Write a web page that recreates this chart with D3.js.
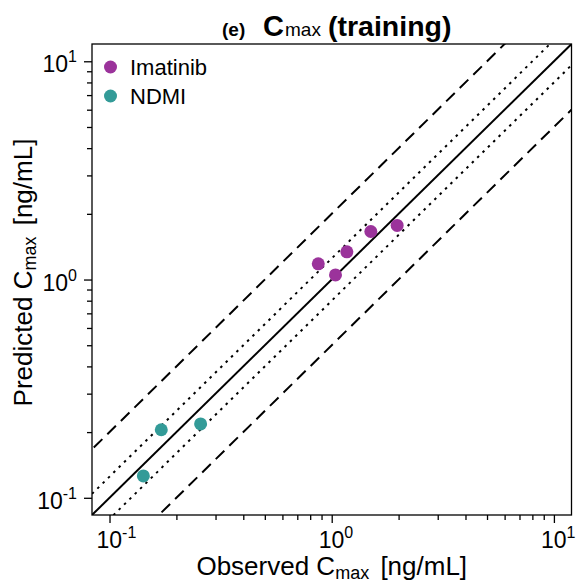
<!DOCTYPE html>
<html lang="en">
<head>
<meta charset="UTF-8">
<title>Cmax training</title>
<script src="https://d3js.org/d3.v7.min.js"></script>
<style>
    body { margin: 0; background: #fff; }
    svg text { font-family: "Liberation Sans", Arial, sans-serif; fill: #000; }
</style>
</head>
<body>
<svg id="chart"></svg>
<script>
    // observed vs predicted Cmax [ng/mL]
    const groups = ["Imatinib", "NDMI"];
    const groupColors = ["#9b339b", "#339b98"];
    const imatinibObs = [0.87, 1.04, 1.17, 1.50, 1.97];
    const imatinibPred = [1.18, 1.05, 1.34, 1.66, 1.77];
    const ndmiObs = [0.142, 0.171, 0.257];
    const ndmiPred = [0.126, 0.205, 0.218];
    const majorTicks = [0.1, 1, 10];
    const majorExp = ["-1", "0", "1"];
    const minorTicks = [0.2, 0.3, 0.4, 0.5, 0.6, 0.7, 0.8, 0.9, 2, 3, 4, 5, 6, 7, 8, 9];
    // fold lines: solid 1:1, dotted 0.8-1.25, dashed 0.5-2
    const foldLines = [
        { k: 1, dash: null },
        { k: 1.25, dash: "2.5,5" },
        { k: 0.8, dash: "2.5,5" },
        { k: 2, dash: "12,7" },
        { k: 0.5, dash: "12,7" }
    ];

    const W = 577, H = 584;
    const pLeft = 92, pRight = 571.5, pTop = 44, pBottom = 515;
    const domain = [0.0834, 12.0];

    const svg = d3.select("#chart").attr("width", W).attr("height", H);

    const x = d3.scaleLog().domain(domain).range([pLeft, pRight]);
    const y = d3.scaleLog().domain(domain).range([pBottom, pTop]);

    // clip for reference lines
    svg.append("clipPath").attr("id", "plotclip")
        .append("rect")
        .attr("x", pLeft).attr("y", pTop)
        .attr("width", pRight - pLeft).attr("height", pBottom - pTop);

    const lines = svg.append("g").attr("clip-path", "url(#plotclip)");
    foldLines.forEach(f => {
        lines.append("line")
            .attr("x1", x(domain[0] / 4)).attr("y1", y(domain[0] / 4 * f.k))
            .attr("x2", x(domain[1] * 4)).attr("y2", y(domain[1] * 4 * f.k))
            .attr("stroke", "#000")
            .attr("stroke-width", 2)
            .attr("stroke-dasharray", f.dash);
    });

    // points
    const pts = svg.append("g");
    [[imatinibObs, imatinibPred], [ndmiObs, ndmiPred]].forEach((s, gi) => {
        s[0].forEach((v, i) => {
            pts.append("circle")
                .attr("cx", x(v)).attr("cy", y(s[1][i]))
                .attr("r", 6.5)
                .attr("fill", groupColors[gi]);
        });
    });

    // box
    svg.append("rect")
        .attr("x", pLeft).attr("y", pTop)
        .attr("width", pRight - pLeft).attr("height", pBottom - pTop)
        .attr("fill", "none").attr("stroke", "#000").attr("stroke-width", 1.3);

    // axes
    const xMajor = d3.axisBottom(x).tickValues(majorTicks).tickFormat("").tickSize(8);
    const xMinor = d3.axisBottom(x).tickValues(minorTicks).tickFormat("").tickSize(5);
    const yMajor = d3.axisLeft(y).tickValues(majorTicks).tickFormat("").tickSize(8);
    const yMinor = d3.axisLeft(y).tickValues(minorTicks).tickFormat("").tickSize(5);

    [xMajor, xMinor].forEach(a => {
        svg.append("g").attr("transform", `translate(0,${pBottom})`).call(a)
            .call(g => g.select(".domain").remove())
            .selectAll("line").attr("stroke-width", 1.3);
    });
    [yMajor, yMinor].forEach(a => {
        svg.append("g").attr("transform", `translate(${pLeft},0)`).call(a)
            .call(g => g.select(".domain").remove())
            .selectAll("line").attr("stroke-width", 1.3);
    });

    // tick labels 10^n
    majorTicks.forEach((v, i) => {
        const tx = svg.append("text")
            .attr("x", x(v) - 13).attr("y", pBottom + 33)
            .attr("font-size", 23);
        tx.append("tspan").text("10");
        tx.append("tspan").attr("dy", -10).attr("font-size", 16).text(majorExp[i]);

        const ty = svg.append("text")
            .attr("x", pLeft - 15).attr("y", y(v) + 11)
            .attr("text-anchor", "end")
            .attr("font-size", 23);
        ty.append("tspan").text("10");
        ty.append("tspan").attr("dy", -10).attr("font-size", 16).text(majorExp[i]);
    });

    // axis titles
    const xt = svg.append("text")
        .attr("x", (pLeft + pRight) / 2).attr("y", 575)
        .attr("text-anchor", "middle").attr("font-size", 26);
    xt.append("tspan").text("Observed C");
    xt.append("tspan").attr("font-size", 18).attr("dy", 4).text("max");
    xt.append("tspan").attr("dy", -4).attr("dx", 4).text("\u00a0[ng/mL]");

    const yt = svg.append("text")
        .attr("transform", `translate(32,${(pTop + pBottom) / 2 - 7}) rotate(-90)`)
        .attr("text-anchor", "middle").attr("font-size", 26);
    yt.append("tspan").text("Predicted C");
    yt.append("tspan").attr("font-size", 18).attr("dy", 4).text("max");
    yt.append("tspan").attr("dy", -4).attr("dx", 4).text("\u00a0[ng/mL]");

    // title
    const tt = svg.append("text")
        .attr("x", 222).attr("y", 36)
        .attr("font-weight", "bold");
    tt.append("tspan").attr("font-size", 19).text("(e)");
    tt.append("tspan").attr("x", 263).attr("font-size", 29).text("C");
    tt.append("tspan").attr("x", 285).attr("font-size", 19).attr("font-weight", "normal").text("max");
    tt.append("tspan").attr("x", 328).attr("font-size", 28.5).text("(training)");

    // legend
    groups.forEach((gname, i) => {
        svg.append("circle")
            .attr("cx", 110.5).attr("cy", 67 + i * 29)
            .attr("r", 6.5).attr("fill", groupColors[i]);
        svg.append("text")
            .attr("x", 130).attr("y", 75 + i * 29)
            .attr("font-size", 22).text(gname);
    });
</script>
</body>
</html>
